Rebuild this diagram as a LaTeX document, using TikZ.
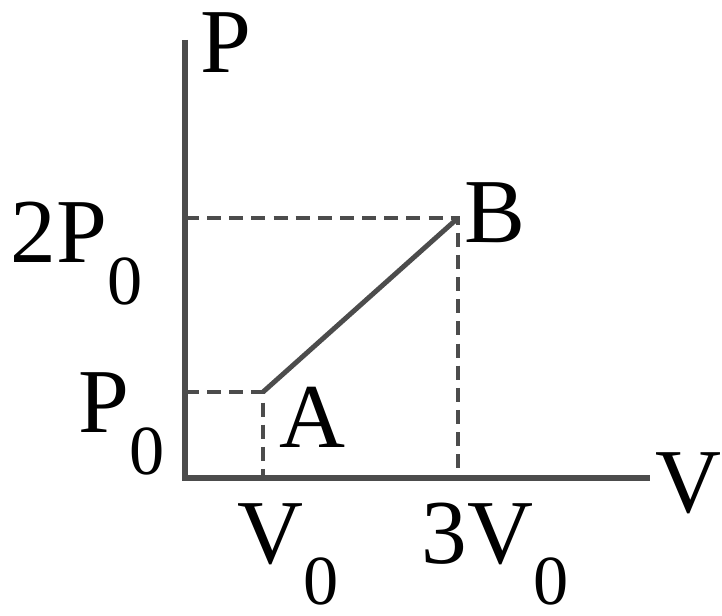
\documentclass[tikz,border=0pt]{standalone}
\usepackage{fontspec}
\setmainfont{Liberation Serif}
\usetikzlibrary{positioning}

\newcommand{\zsub}[1]{\raisebox{-0.45em}{\fontsize{20}{20}\selectfont #1}}

\tikzset{
 axisline/.style={line width=1.7pt,gray!60!black},
 guide/.style={line width=1.3pt,gray!60!black,dash pattern=on 4pt off 2.3pt},
 lbl/.style={inner sep=0pt,anchor=base west,font=\fontsize{26}{30}\selectfont}
}

\begin{document}
\begin{tikzpicture}
 \useasboundingbox (0,0) rectangle (7.22,6.15);
 % axes
 \coordinate (O) at (1.85,1.37);
 \coordinate (Ptop) at (1.85,5.75);
 \coordinate (Vend) at (6.50,1.37);
 \coordinate (A) at (2.63,2.23);
 \coordinate (B) at (4.58,3.97);
 \draw[axisline] (Ptop) -- (O) -- (Vend);
 % guide lines
 \draw[guide] (O |- A) -- (A) -- (A |- O);
 \draw[guide] (O |- B) -- (B) -- (B |- O);
 \draw[axisline,line width=1.4pt] (A) -- (B);
 % labels
 \node[lbl] (lp) at (2.00,5.42) {P};
 \node[lbl] (lv) at (6.55,1.02) {V};
 \node[lbl] (la) at (2.79,1.67) {A};
 \node[lbl] (lb) at (4.64,3.72) {B};
 \node[lbl] (l2p) at (0.10,3.52) {2P\zsub{0}};
 \node[lbl] (lp0) at (0.78,1.82) {P\zsub{0}};
 \node[lbl] (lv0) at (2.37,0.52) {V\zsub{0}};
 \node[lbl] (l3v) at (4.21,0.52) {3V\zsub{0}};
\end{tikzpicture}
\end{document}
